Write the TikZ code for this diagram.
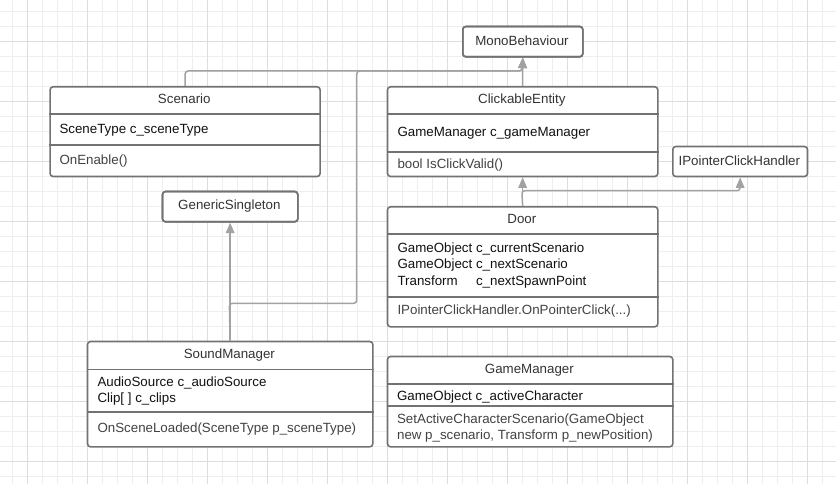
\documentclass[tikz,border=0pt]{standalone}
\usepackage{fontspec}
\setmainfont{Liberation Sans}
\usetikzlibrary{arrows.meta}
\definecolor{gridminor}{HTML}{EEEEEE}
\definecolor{gridmajor}{HTML}{DDDDDD}
\definecolor{boxline}{HTML}{727272}
\definecolor{connline}{HTML}{A2A2A2}
\definecolor{titletext}{HTML}{333333}
\definecolor{methtext}{HTML}{424242}
\definecolor{attrtext}{HTML}{111111}
\begin{document}
\begin{tikzpicture}[x=1pt,y=-1pt,
  umlbox/.style={draw=boxline, line width=1.6pt, rounded corners=3pt, inner sep=0pt, fill=white, anchor=north west},
  divider/.style={draw=boxline, line width=1.6pt},
  ttl/.style={inner sep=0pt, anchor=base, text=titletext, font=\fontsize{13.33}{16.3}\selectfont},
  attr/.style={inner sep=0pt, anchor=base west, text=attrtext, font=\fontsize{13.33}{16.3}\selectfont},
  meth/.style={inner sep=0pt, anchor=base west, text=methtext, font=\fontsize{13.33}{16.3}\selectfont},
  connector/.style={draw=connline, line width=1.5pt, rounded corners=3pt, -{Triangle[length=10.5pt,width=8.5pt]}}
]
% background and grid
\fill[white] (0,0) rectangle (836,484);
\useasboundingbox (0,0) rectangle (836,484);
\foreach \x in {12.7,27.7,...,836} \draw[gridminor, line width=1pt] (\x,0) -- (\x,484);
\foreach \y in {11.7,26.7,...,484} \draw[gridminor, line width=1pt] (0,\y) -- (836,\y);
\foreach \x in {27.7,87.7,...,836} \draw[gridmajor, line width=1pt] (\x,0) -- (\x,484);
\foreach \y in {41.7,101.7,...,484} \draw[gridmajor, line width=1pt] (0,\y) -- (836,\y);

% boxes
\node[umlbox, minimum width=120pt, minimum height=30.3pt] (mono) at (462,25.7) {};
\node[umlbox, minimum width=270pt, minimum height=89.7pt] (scen) at (49.3,86) {};
\node[umlbox, minimum width=270.3pt, minimum height=89.7pt] (ce) at (386.7,86) {};
\node[umlbox, minimum width=134.7pt, minimum height=30pt] (ipch) at (672,145.7) {};
\node[umlbox, minimum width=135.3pt, minimum height=30.3pt] (gs) at (161.7,190.7) {};
\node[umlbox, minimum width=270.3pt, minimum height=120pt] (door) at (386.7,206) {};
\node[umlbox, minimum width=285.3pt, minimum height=105.3pt] (sm) at (86.7,340.7) {};
\node[umlbox, minimum width=285.3pt, minimum height=90.3pt] (gm) at (386.7,355.7) {};

% junction coordinates
\coordinate (monoIn) at (522.3,71);
\coordinate (smTurn) at (229.35,303.3);
\coordinate (smRight) at (356.7,303.3);
\coordinate (smTop) at (356.7,71);
\coordinate (doorJ) at (521.85,190.7);

% connectors
\draw[connector] (scen.north) |- (monoIn) -- (mono.south);
\draw[connector] (sm.north) -- (smTurn) -- (smRight) -- (smTop) -- (monoIn) -- (mono.south);
\draw[connector] (ce.north) -- (mono.south);
\draw[connector] (sm.north) -- (gs.south);
\draw[connector] (door.north) -- (ce.south);
\draw[connector] (door.north) -- (doorJ) -| (ipch.south);

% redraw borders on top of connector ends
\node[umlbox, minimum width=120pt, minimum height=30.3pt, fill=none] at (462,25.7) {};
\node[umlbox, minimum width=135.3pt, minimum height=30.3pt, fill=none] at (161.7,190.7) {};

% dividers
\draw[divider] (scen.west |- 0,114.3) -- (scen.east |- 0,114.3);
\draw[divider] (scen.west |- 0,145.3) -- (scen.east |- 0,145.3);
\draw[divider] (ce.west |- 0,114.3) -- (ce.east |- 0,114.3);
\draw[divider] (ce.west |- 0,152) -- (ce.east |- 0,152);
\draw[divider] (door.west |- 0,234) -- (door.east |- 0,234);
\draw[divider] (door.west |- 0,296.7) -- (door.east |- 0,296.7);
\draw[divider] (sm.west |- 0,369.3) -- (sm.east |- 0,369.3);
\draw[divider] (sm.west |- 0,412) -- (sm.east |- 0,412);
\draw[divider] (gm.west |- 0,384) -- (gm.east |- 0,384);
\draw[divider] (gm.west |- 0,406) -- (gm.east |- 0,406);

% texts
\node[ttl] (monoT) at (522,45.2) {MonoBehaviour};
\node[ttl] (ipchT) at (739.35,165.3) {IPointerClickHandler};
\node[ttl] (gsT) at (229.35,209.8) {GenericSingleton};

\node[ttl] (scenT) at (184.3,103.5) {Scenario};
\node[attr] (scenA) at (59.3,133.1) {SceneType c\_sceneType};
\node[meth] (scenM) at (59.3,164.5) {OnEnable()};

\node[ttl] (ceT) at (521.85,103.5) {ClickableEntity};
\node[attr] (ceA) at (397.3,136.5) {GameManager c\_gameManager};
\node[meth] (ceM) at (397.3,168.8) {bool IsClickValid()};

\node[ttl] (doorT) at (521.85,223.1) {Door};
\node[attr] (doorA1) at (397.3,252.5) {GameObject c\_currentScenario};
\node[attr] (doorA2) at (397.3,268.8) {GameObject c\_nextScenario};
\node[attr] (doorA3) at (397.3,285.1) {\makebox[0pt][l]{Transform}\hphantom{GameObject }c\_nextSpawnPoint};
\node[meth] (doorM) at (397.3,314.1) {IPointerClickHandler.OnPointerClick(...)};

\node[ttl] (smT) at (229.35,358.1) {SoundManager};
\node[attr] (smA1) at (97.3,386.5) {AudioSource c\_audioSource};
\node[attr] (smA2) at (97.3,402.8) {Clip[ ] c\_clips};
\node[meth] (smM) at (97.3,432.5) {OnSceneLoaded(SceneType p\_sceneType)};

\node[ttl] (gmT) at (529.35,373.1) {GameManager};
\node[attr] (gmA) at (396.9,400.8) {GameObject c\_activeCharacter};
\node[meth] (gmM1) at (396.9,423.1) {SetActiveCharacterScenario(GameObject};
\node[meth] (gmM2) at (396.9,439.1) {new p\_scenario, Transform p\_newPosition)};
\end{tikzpicture}
\end{document}
